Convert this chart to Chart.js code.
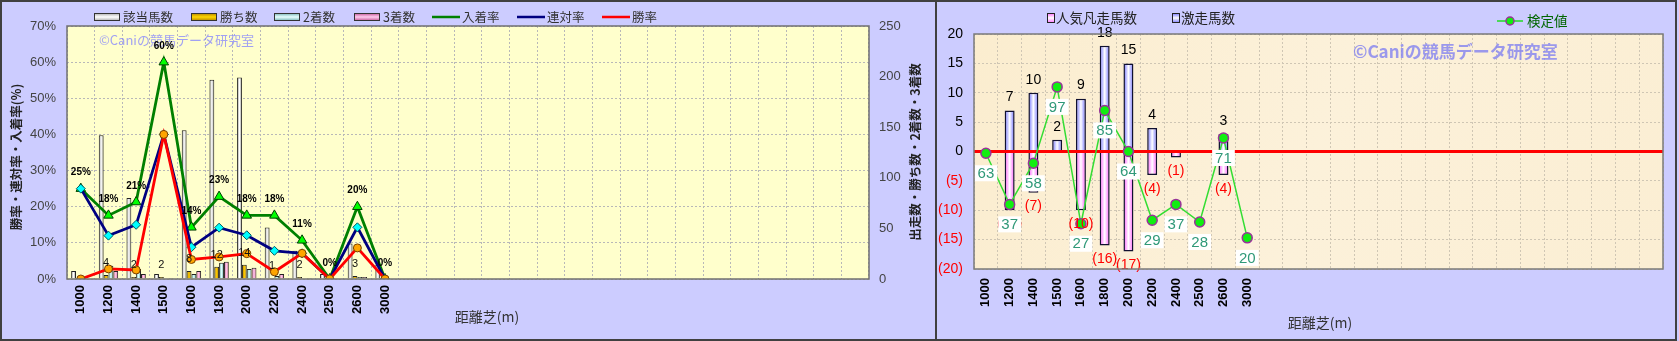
<!DOCTYPE html>
<html><head><meta charset="utf-8">
<script src="https://cdn.jsdelivr.net/npm/chart.js@4/dist/chart.umd.min.js"></script>
<style>
html,body{margin:0;padding:0;background:#ccccff;}
#wrap{position:relative;width:1679px;height:341px;background:#ccccff;overflow:hidden}
canvas{position:absolute;top:0}
.frame{position:absolute;top:0;height:341px;box-sizing:border-box;border:2px solid #404040;pointer-events:none}
</style></head><body>
<div id="wrap">
<canvas id="left" width="936" height="341" style="left:0"></canvas>
<canvas id="right" width="742" height="341" style="left:937px"></canvas>
<div class="frame" style="left:0;width:937px"></div>
<div class="frame" style="left:935px;width:742px"></div>
</div>
<script>
// ---------- data ----------
const categories = ['1000','1200','1400','1500','1600','1800','2000','2200','2400','2500','2600','3000'];
const blankSlots = ['','','','','','','','','','','','','','','','',''];
const runners  = [8,142,80,5,147,197,199,51,28,5,35,14];
const wins     = [0,4,2,2,8,12,14,1,2,0,3,0];
const seconds  = [2,13,10,0,5,16,10,3,0,0,2,0];
const thirds   = [0,8,5,1,8,17,11,5,1,0,2,0];
const winRate      = [0,2.8,2.5,40,5.4,6.1,7.0,2.0,7.1,0,8.6,0];
const quinellaRate = [25,12.0,15.0,40,8.8,14.2,12.1,7.8,7.1,0,14.3,0];
const placeRate    = [25,17.6,21.3,60,14.3,22.8,17.6,17.6,10.7,0,20,0];
const surgeCount = [0,7,10,2,9,18,15,4,0,0,3,0];
const flopCount  = [0,-10,-7,0,-10,-16,-17,-4,-1,0,-4,0];
const testLabel  = [63,37,58,97,27,85,64,29,37,28,71,20];
const testPlot   = [-0.3,-9,-2,11,-12.3,7,0,-11.7,-9,-12,2.3,-14.7];
const axisLabels = categories.concat(blankSlots);

const JP = '"Noto Sans CJK JP", sans-serif';
const NUM = '"Liberation Sans Narrow", "Liberation Sans", Arial, sans-serif';
const SANS = '"Liberation Sans", Arial, sans-serif';
const WATERMARK = '©Caniの競馬データ研究室';

function barGradient(edge, mid, slot, nSlots, span) {
  return (c) => {
    const chart = c.chart, xs = chart.scales && chart.scales.x;
    if (c.type !== 'data' || !chart.chartArea || !xs) return mid;
    const cat = Math.abs(xs.getPixelForValue(1) - xs.getPixelForValue(0));
    const bw = cat * span / nSlots;
    const cx = xs.getPixelForValue(c.dataIndex) + (slot - (nSlots - 1) / 2) * bw;
    if (!isFinite(cx) || !isFinite(bw)) return mid;
    const g = chart.ctx.createLinearGradient(cx - bw / 2, 0, cx + bw / 2, 0);
    g.addColorStop(0, edge); g.addColorStop(0.5, mid); g.addColorStop(1, edge);
    return g;
  };
}

function vSwatch(ctx, x, y, w, h, edge, mid, border) {
  const g = ctx.createLinearGradient(0, y, 0, y + h);
  g.addColorStop(0, edge); g.addColorStop(0.5, mid); g.addColorStop(1, edge);
  ctx.fillStyle = g; ctx.fillRect(x, y, w, h);
  ctx.strokeStyle = border; ctx.lineWidth = 1; ctx.strokeRect(x + 0.5, y + 0.5, w - 1, h - 1);
}

// ---------- left chart ----------
const SPAN = 0.7;
const leftDeco = {
  id: 'leftDeco',
  beforeDraw(chart) {
    const { ctx, chartArea: a } = chart;
    ctx.save(); ctx.fillStyle = '#ffffcc';
    ctx.fillRect(a.left, a.top, a.right - a.left, a.bottom - a.top); ctx.restore();
  },
  beforeDatasetsDraw(chart) {
    const ctx = chart.ctx;
    ctx.save(); ctx.font = '13px ' + JP; ctx.fillStyle = 'rgba(130,130,255,0.75)';
    ctx.textBaseline = 'middle'; ctx.textAlign = 'left';
    ctx.fillText(WATERMARK, 99, 40); ctx.restore();
  },
  afterDatasetsDraw(chart) {
    const ctx = chart.ctx;
    ctx.save(); ctx.textAlign = 'center'; ctx.textBaseline = 'middle'; ctx.fillStyle = '#000';
    ctx.font = 'bold 10px ' + NUM;
    chart.getDatasetMeta(2).data.forEach((pt, i) => ctx.fillText(Math.round(placeRate[i]) + '%', pt.x, pt.y - 16));
    ctx.font = '11px ' + SANS; ctx.fillStyle = '#111';
    chart.getDatasetMeta(4).data.forEach((b, i) => { if (wins[i] > 0) ctx.fillText(String(wins[i]), b.x, b.y - 12); });
    ctx.restore();
  },
  afterDraw(chart) {
    const { ctx, chartArea: a } = chart;
    ctx.save();
    ctx.strokeStyle = '#707070'; ctx.lineWidth = 1.5;
    ctx.strokeRect(a.left, a.top, a.right - a.left, a.bottom - a.top);
    // legend
    ctx.textBaseline = 'middle'; ctx.textAlign = 'left'; ctx.font = '12.5px ' + JP; ctx.fillStyle = '#333';
    const ly = 17;
    const bars = [
      [94, '該当馬数', '#a8a8a8', '#ffffff'],
      [191, '勝ち数', '#b08000', '#ffd700'],
      [274, '2着数', '#70b0b0', '#e8ffff'],
      [354, '3着数', '#c05090', '#ffccee']];
    bars.forEach(([x, t, e, m]) => {
      vSwatch(ctx, x, ly - 4, 26, 8, e, m, '#333');
      ctx.fillStyle = '#333'; ctx.fillText(t, x + 29, ly);
    });
    const lines = [
      [432, '入着率', '#008000', 'triangle', '#00ff00', '#004000'],
      [517, '連対率', '#000080', 'rectRot', '#00ffff', '#005a60'],
      [602, '勝率', '#ff0000', 'circle', '#ffa500', '#7a4000']];
    lines.forEach(([x, t, c, ps, f, b]) => {
      ctx.strokeStyle = c; ctx.lineWidth = 2.5;
      ctx.beginPath(); ctx.moveTo(x, ly); ctx.lineTo(x + 28, ly); ctx.stroke();
      ctx.fillStyle = f; ctx.strokeStyle = b; ctx.lineWidth = 1;
      Chart.helpers.drawPoint(ctx, { pointStyle: ps, rotation: 0, borderWidth: 1 }, x + 14, ly);
      ctx.fillStyle = '#333'; ctx.fillText(t, x + 30, ly);
    });
    // axis titles
    ctx.fillStyle = '#222'; ctx.font = 'bold 12.5px ' + JP; ctx.textAlign = 'center';
    ctx.save(); ctx.translate(16, 157); ctx.rotate(-Math.PI / 2); ctx.fillText('勝率・連対率・入着率(%)', 0, 0); ctx.restore();
    ctx.save(); ctx.translate(915, 152); ctx.rotate(-Math.PI / 2); ctx.fillText('出走数・勝ち数・2着数・3着数', 0, 0); ctx.restore();
    ctx.font = '14px ' + JP; ctx.fillStyle = '#333';
    ctx.fillText('距離芝(m)', 487, 317);
    ctx.restore();
  }
};

function countBar(label, data, slot, edge, mid) {
  return { type: 'bar', label, data, yAxisID: 'y1', order: 3,
    backgroundColor: barGradient(edge, mid, slot, 4, SPAN),
    borderColor: '#222', borderWidth: 1, categoryPercentage: SPAN, barPercentage: 1 };
}

new Chart(document.getElementById('left'), {
  type: 'bar',
  data: {
    labels: axisLabels,
    datasets: [
      { type: 'line', label: '勝率', data: winRate, yAxisID: 'y', order: 0,
        borderColor: '#ff0000', borderWidth: 2.8, pointStyle: 'circle', pointRadius: 4,
        pointBackgroundColor: '#ffa500', pointBorderColor: '#7a4000', pointBorderWidth: 1 },
      { type: 'line', label: '連対率', data: quinellaRate, yAxisID: 'y', order: 1,
        borderColor: '#000080', borderWidth: 2.8, pointStyle: 'rectRot', pointRadius: 4.5,
        pointBackgroundColor: '#00ffff', pointBorderColor: '#005a60', pointBorderWidth: 1 },
      { type: 'line', label: '入着率', data: placeRate, yAxisID: 'y', order: 2,
        borderColor: '#008000', borderWidth: 2.8, pointStyle: 'triangle', pointRadius: 5.5,
        pointBackgroundColor: '#00ff00', pointBorderColor: '#004000', pointBorderWidth: 1 },
      countBar('該当馬数', runners, 0, '#8a8a8a', '#ffffff'),
      countBar('勝ち数', wins, 1, '#a07000', '#ffcc00'),
      countBar('2着数', seconds, 2, '#55aaaa', '#e0ffff'),
      countBar('3着数', thirds, 3, '#d0508f', '#ffccee')
    ]
  },
  options: {
    responsive: false, animation: false,
    layout: { padding: { top: 26, left: 0, right: 0, bottom: 0 } },
    plugins: { legend: { display: false }, tooltip: { enabled: false } },
    scales: {
      x: { offset: true,
        grid: { offset: true, color: '#b8b8b8', lineWidth: 1, drawTicks: false, borderDash: [2, 2] },
        border: { display: false, dash: [2, 2] },
        ticks: { autoSkip: false, maxRotation: 90, minRotation: 90, padding: 6, color: '#000',
          font: { family: SANS, size: 13, weight: 'bold' } },
        afterFit(s) { s.height = 62; } },
      y: { position: 'left', min: 0, max: 70,
        grid: { color: '#b8b8b8', drawTicks: false, borderDash: [2, 2] },
        border: { display: false, dash: [2, 2] },
        ticks: { stepSize: 10, callback: v => v + '%', padding: 11, color: '#444', font: { family: NUM, size: 13 } },
        afterFit(s) { s.width = 67; } },
      y1: { position: 'right', min: 0, max: 250,
        grid: { drawOnChartArea: false, drawTicks: false },
        border: { display: false },
        ticks: { stepSize: 50, padding: 10, color: '#444', font: { family: NUM, size: 13 } },
        afterFit(s) { s.width = 67; } }
    }
  },
  plugins: [leftDeco]
});

// ---------- right chart ----------
const rightDeco = {
  id: 'rightDeco',
  beforeDraw(chart) {
    const { ctx, chartArea: a } = chart;
    ctx.save();
    const g = ctx.createLinearGradient(a.left, a.top, a.right, a.bottom);
    g.addColorStop(0, '#fbedcf'); g.addColorStop(0.5, '#fcf1da'); g.addColorStop(1, '#fbeed3');
    ctx.fillStyle = g; ctx.fillRect(a.left, a.top, a.right - a.left, a.bottom - a.top);
    ctx.restore();
  },
  beforeDatasetsDraw(chart) {
    const ctx = chart.ctx;
    ctx.save(); ctx.font = 'bold 17px ' + JP; ctx.fillStyle = 'rgba(130,130,240,0.8)';
    ctx.textBaseline = 'middle'; ctx.textAlign = 'left';
    ctx.fillText(WATERMARK, 416, 52); ctx.restore();
  },
  afterDatasetDraw(chart, args) {
    if (args.index !== 1) return;
    const { ctx, chartArea: a, scales } = chart;
    const y0 = scales.y.getPixelForValue(0);
    ctx.save(); ctx.strokeStyle = '#ff0000'; ctx.lineWidth = 3;
    ctx.beginPath(); ctx.moveTo(a.left, y0); ctx.lineTo(a.right, y0); ctx.stroke(); ctx.restore();
  },
  afterDatasetsDraw(chart) {
    const ctx = chart.ctx;
    ctx.save(); ctx.textAlign = 'center'; ctx.textBaseline = 'middle';
    ctx.font = '14px ' + SANS;
    ctx.fillStyle = '#000';
    chart.getDatasetMeta(1).data.forEach((b, i) => { if (surgeCount[i] > 0) ctx.fillText(String(surgeCount[i]), b.x, b.y - 13); });
    ctx.fillStyle = '#ff0000';
    chart.getDatasetMeta(2).data.forEach((b, i) => { if (flopCount[i] < 0) ctx.fillText('(' + (-flopCount[i]) + ')', b.x, b.y + 14); });
    ctx.font = '15px ' + SANS;
    chart.getDatasetMeta(0).data.forEach((p, i) => {
      const t = String(testLabel[i]);
      const w = ctx.measureText(t).width + 6;
      const cy = p.y + 20;
      ctx.fillStyle = '#ffffff'; ctx.fillRect(p.x - w / 2, cy - 8, w, 16);
      ctx.fillStyle = '#2f9978'; ctx.fillText(t, p.x, cy + 0.5);
    });
    ctx.restore();
  },
  afterDraw(chart) {
    const { ctx, chartArea: a } = chart;
    ctx.save();
    ctx.strokeStyle = '#7a7a7a'; ctx.lineWidth = 1.5;
    ctx.strokeRect(a.left, a.top, a.right - a.left, a.bottom - a.top);
    ctx.textBaseline = 'middle'; ctx.textAlign = 'left'; ctx.font = '13.5px ' + JP;
    // legend
    vSwatch(ctx, 110, 13, 8, 10, '#ff66ff', '#ffffff', '#222');
    ctx.fillStyle = '#222'; ctx.fillText('人気凡走馬数', 119, 18);
    vSwatch(ctx, 235, 13, 8, 10, '#7070ff', '#ffffff', '#222');
    ctx.fillStyle = '#222'; ctx.fillText('激走馬数', 244, 18);
    ctx.strokeStyle = '#22dd22'; ctx.lineWidth = 1.5;
    ctx.beginPath(); ctx.moveTo(560, 21); ctx.lineTo(586, 21); ctx.stroke();
    ctx.fillStyle = '#11ee11'; ctx.strokeStyle = '#993399'; ctx.lineWidth = 1.5;
    ctx.beginPath(); ctx.arc(573, 21, 4, 0, Math.PI * 2); ctx.fill(); ctx.stroke();
    ctx.fillStyle = '#006600'; ctx.fillText('検定値', 590, 21);
    // x title
    ctx.textAlign = 'center'; ctx.font = '14px ' + JP; ctx.fillStyle = '#333';
    ctx.fillText('距離芝(m)', 383, 323);
    ctx.restore();
  }
};

new Chart(document.getElementById('right'), {
  type: 'bar',
  data: {
    labels: axisLabels,
    datasets: [
      { type: 'line', label: '検定値', data: testPlot, order: 0,
        borderColor: '#33dd33', borderWidth: 1.5, pointRadius: 5,
        pointBackgroundColor: '#11ee11', pointBorderColor: '#993399', pointBorderWidth: 1.5 },
      { type: 'bar', label: '激走馬数', data: surgeCount, order: 1, grouped: false,
        backgroundColor: barGradient('#6a6aff', '#ffffff', 0, 1, 0.42),
        borderColor: '#101030', borderWidth: 1.5, categoryPercentage: 1, barPercentage: 0.42 },
      { type: 'bar', label: '人気凡走馬数', data: flopCount, order: 2, grouped: false,
        backgroundColor: barGradient('#ff55ff', '#ffffff', 0, 1, 0.42),
        borderColor: '#101030', borderWidth: 1.5, categoryPercentage: 1, barPercentage: 0.42 }
    ]
  },
  options: {
    responsive: false, animation: false,
    layout: { padding: { top: 34, left: 0, right: 16, bottom: 0 } },
    plugins: { legend: { display: false }, tooltip: { enabled: false } },
    scales: {
      x: { offset: true,
        grid: { offset: true, color: '#cfc6b4', lineWidth: 1, drawTicks: false, borderDash: [2, 2] },
        border: { display: false, dash: [2, 2] },
        ticks: { autoSkip: false, maxRotation: 90, minRotation: 90, padding: 9, color: '#000',
          font: { family: SANS, size: 13, weight: 'bold' } },
        afterFit(s) { s.height = 72; } },
      y: { min: -20, max: 20,
        grid: { color: '#cfc6b4', drawTicks: false, borderDash: [2, 2] },
        border: { display: false, dash: [2, 2] },
        ticks: { stepSize: 5, padding: 11,
          callback: v => v < 0 ? '(' + (-v) + ')' : String(v),
          color: c => (c.tick && c.tick.value < 0) ? '#ff0000' : '#000',
          font: { family: SANS, size: 14 } },
        afterFit(s) { s.width = 37; } }
    }
  },
  plugins: [rightDeco]
});
</script>
</body></html>
